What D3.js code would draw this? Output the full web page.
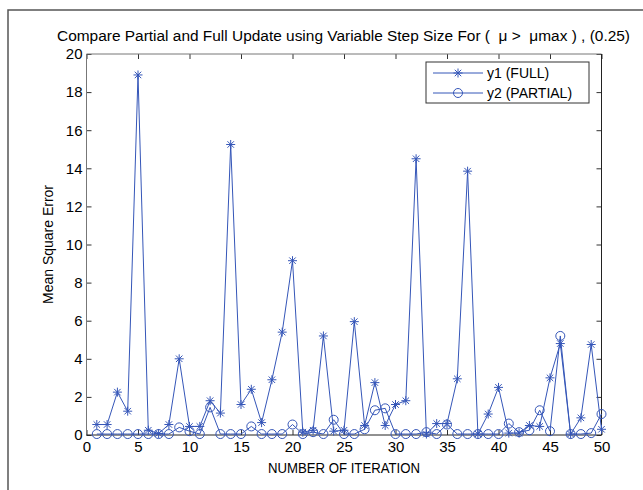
<!DOCTYPE html>
<html>
<head>
<meta charset="utf-8">
<script src="https://d3js.org/d3.v7.min.js"></script>
<style>
  body { margin: 0; padding: 0; background: #fff; }
  text { font-family: "Liberation Sans", Arial, sans-serif; }
  .title { white-space: pre; }
</style>
</head>
<body>
<svg id="chart" width="643" height="490"></svg>
<script>
// ---- data ----
const iterations = d3.range(1, 51);
const fullMSE = [0.55, 0.55, 2.25, 1.25, 18.9, 0.25, 0.08, 0.55, 4.0, 0.45,
                 0.45, 1.8, 1.15, 15.25, 1.6, 2.4, 0.65, 2.9, 5.4, 9.15,
                 0.15, 0.25, 5.2, 0.2, 0.25, 5.95, 0.5, 2.75, 0.5, 1.6,
                 1.8, 14.5, 0.05, 0.6, 0.6, 2.95, 13.85, 0.05, 1.1, 2.5,
                 0.1, 0.1, 0.5, 0.45, 3.0, 4.8, 0.05, 0.9, 4.75, 0.3];
const partialMSE = [0.05, 0.05, 0.05, 0.05, 0.05, 0.05, 0.05, 0.05, 0.4, 0.2,
                    0.05, 1.45, 0.05, 0.05, 0.05, 0.45, 0.05, 0.05, 0.05, 0.55,
                    0.05, 0.15, 0.05, 0.8, 0.05, 0.05, 0.3, 1.3, 1.4, 0.05,
                    0.05, 0.05, 0.15, 0.05, 0.55, 0.05, 0.05, 0.05, 0.05, 0.05,
                    0.6, 0.15, 0.25, 1.3, 0.2, 5.2, 0.05, 0.05, 0.1, 1.1];
const xTicks = d3.range(0, 51, 5);
const yTicks = d3.range(0, 21, 2);
const legendLabels = ["y1 (FULL)", "y2 (PARTIAL)"];

const svg = d3.select("#chart");
const pL = 86.5, pR = 601.5, pT = 54, pB = 435;
const blue = "#3556b8";

// outer frame (left + top edges of the figure window)
svg.append("path")
    .attr("d", "M8,490 L8,10 L643,10")
    .attr("fill", "none").attr("stroke", "#555").attr("stroke-width", 1.5);

const x = d3.scaleLinear().domain([0, 50]).range([pL, pR]);
const y = d3.scaleLinear().domain([0, 20]).range([pB, pT]);

// axes, ticks inward on all four sides
svg.append("g").attr("transform", `translate(0,${pB})`)
    .call(d3.axisBottom(x).tickValues(xTicks).tickSizeInner(-5).tickSizeOuter(0).tickPadding(6))
    .call(g => g.selectAll("text").attr("font-size", 15).attr("fill", "#000"));
svg.append("g").attr("transform", `translate(0,${pT})`)
    .call(d3.axisTop(x).tickValues(xTicks).tickSizeInner(-5).tickSizeOuter(0).tickFormat(""));
svg.append("g").attr("transform", `translate(${pL},0)`)
    .call(d3.axisLeft(y).tickValues(yTicks).tickSizeInner(-5).tickSizeOuter(0).tickPadding(4))
    .call(g => g.selectAll("text").attr("font-size", 15).attr("fill", "#000"));
svg.append("g").attr("transform", `translate(${pR},0)`)
    .call(d3.axisRight(y).tickValues(yTicks).tickSizeInner(-5).tickSizeOuter(0).tickFormat(""));
svg.selectAll(".domain").remove();
svg.selectAll(".tick line").attr("stroke", "#333");

// plot box
svg.append("path").attr("d", `M${pL},${pB} L${pL},${pT} L${pR},${pT}`)
    .attr("fill", "none").attr("stroke", "#777");
svg.append("path").attr("d", `M${pL},${pB} L${pR},${pB} L${pR},${pT}`)
    .attr("fill", "none").attr("stroke", "#222");

const line = d3.line().x((d, i) => x(iterations[i])).y(d => y(d));

function starPath(cx, cy, r) {
    const d = r * 0.72;
    return `M${cx - r},${cy}L${cx + r},${cy}M${cx},${cy - r}L${cx},${cy + r}` +
           `M${cx - d},${cy - d}L${cx + d},${cy + d}M${cx - d},${cy + d}L${cx + d},${cy - d}`;
}

// y1 full
svg.append("path").datum(fullMSE).attr("d", line)
    .attr("fill", "none").attr("stroke", blue).attr("stroke-width", 1);
svg.append("g").selectAll("path").data(fullMSE).join("path")
    .attr("d", (d, i) => starPath(x(iterations[i]), y(d), 4.5))
    .attr("stroke", blue).attr("stroke-width", 1).attr("fill", "none");

// y2 partial
svg.append("path").datum(partialMSE).attr("d", line)
    .attr("fill", "none").attr("stroke", blue).attr("stroke-width", 1);
svg.append("g").selectAll("circle").data(partialMSE).join("circle")
    .attr("cx", (d, i) => x(iterations[i])).attr("cy", d => y(d)).attr("r", 4.5)
    .attr("stroke", blue).attr("stroke-width", 1).attr("fill", "none");

// title and labels
svg.append("text").attr("class", "title").attr("x", 343.5).attr("y", 41).attr("text-anchor", "middle")
    .attr("font-size", 14).attr("textLength", 573).attr("lengthAdjust", "spacingAndGlyphs")
    .text("Compare Partial and Full Update using Variable Step Size For (  \u03bc >  \u03bcmax ) , (0.25)");
svg.append("text").attr("x", (pL + pR) / 2).attr("y", 473).attr("text-anchor", "middle")
    .attr("font-size", 14).attr("textLength", 152).attr("lengthAdjust", "spacingAndGlyphs")
    .text("NUMBER OF ITERATION");
svg.append("text").attr("transform", `translate(53,${(pT + pB) / 2}) rotate(-90)`)
    .attr("text-anchor", "middle").attr("font-size", 14)
    .text("Mean Square Error");

// legend
const lg = svg.append("g");
lg.append("rect").attr("x", 426).attr("y", 62).attr("width", 163).attr("height", 41)
    .attr("fill", "#fff").attr("stroke", "#333");
legendLabels.forEach((lab, i) => {
    const ly = 73 + i * 20;
    lg.append("line").attr("x1", 433).attr("x2", 483).attr("y1", ly).attr("y2", ly)
        .attr("stroke", blue);
    if (i === 0) {
        lg.append("path").attr("d", starPath(458, ly, 4.5)).attr("stroke", blue).attr("fill", "none");
    } else {
        lg.append("circle").attr("cx", 458).attr("cy", ly).attr("r", 4.5)
            .attr("stroke", blue).attr("fill", "none");
    }
    lg.append("text").attr("x", 487).attr("y", ly + 5).attr("font-size", 14).text(lab);
});
</script>
</body>
</html>
